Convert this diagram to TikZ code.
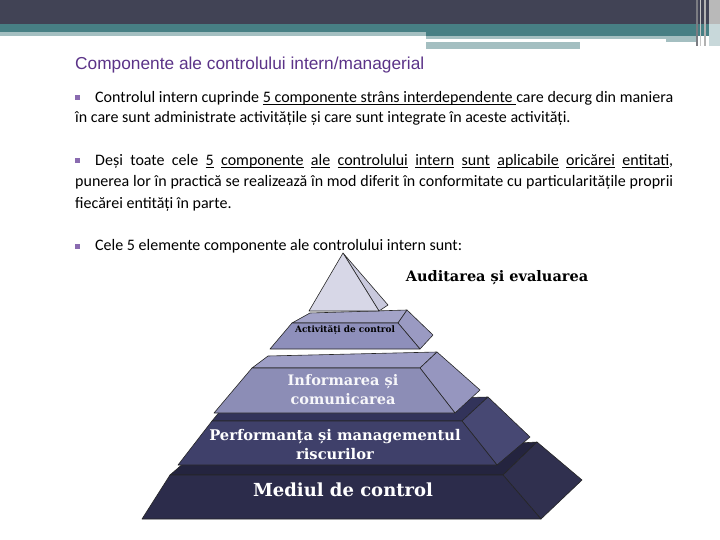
\documentclass[tikz,border=0pt]{standalone}
\usepackage{fontspec}
\setmainfont{Carlito}
\newfontfamily\titlefont{Liberation Sans}
\newfontfamily\pyrfont{DejaVu Serif}
\newsavebox\ulbox
\newcommand\myul[1]{\sbox\ulbox{#1}\rlap{\rule[-1.8pt]{\wd\ulbox}{0.7pt}}\usebox\ulbox}
\definecolor{hdrdark}{HTML}{414355}
\definecolor{hdrteal}{HTML}{477F84}
\definecolor{hdrlight}{HTML}{A4BFC1}
\definecolor{titlecol}{HTML}{5B3388}
\definecolor{bulletcol}{HTML}{8A6BB0}
\definecolor{apexfront}{HTML}{D7D7E7}
\definecolor{apexside}{HTML}{C9C9DD}
\definecolor{sbfront}{HTML}{8E8FBB}
\definecolor{sbtop}{HTML}{A3A3C8}
\definecolor{sbside}{HTML}{9A9AC2}
\definecolor{scfront}{HTML}{8C8DB6}
\definecolor{sctop}{HTML}{9E9EC6}
\definecolor{scside}{HTML}{9696BF}
\definecolor{sdfront}{HTML}{3F406A}
\definecolor{sdtop}{HTML}{32335A}
\definecolor{sdside}{HTML}{474873}
\definecolor{sefront}{HTML}{2C2C4B}
\definecolor{setop}{HTML}{24243F}
\definecolor{seside}{HTML}{30304F}
\begin{document}
\begin{tikzpicture}[x=1pt,y=-1pt,
  edge/.style={draw=black!85,line width=0.6pt,line join=round},
  bodytext/.style={anchor=base west,inner sep=0pt,font=\fontsize{16}{19}\selectfont},
  bulletsq/.style={rectangle,fill=bulletcol,minimum size=5pt,inner sep=0pt},
  pyrlabel/.style={align=center,inner sep=0pt,font=\pyrfont\bfseries}]
\useasboundingbox (0,0) rectangle (720,540);
% header
\fill[hdrdark] (0,0) rectangle (720,24);
\fill[hdrteal] (0,24) rectangle (720,32);
\fill[hdrlight] (0,32) rectangle (426,36);
\fill[hdrteal] (426,32) rectangle (720,36);
\fill[hdrlight] (426,36) rectangle (698,39);
\fill[hdrlight] (666,39) rectangle (698,42);
\fill[hdrlight] (426,42) rectangle (580,49);
\fill[black!45!hdrdark!60] (696,0) rectangle (698,46);
\fill[gray!45] (700,0) rectangle (701,46);
\fill[gray!60] (704,0) rectangle (706,46);
\fill[gray!55] (709,0) rectangle (720,24);
\fill[hdrlight!60] (709,24) rectangle (720,46);
% title
\node[anchor=base west,inner sep=0pt,text=titlecol,font=\titlefont\fontsize{17.3}{20}\selectfont] (title) at (75,70) {Componente ale controlului intern/managerial};
% paragraph 1
\node[bulletsq] (b1) at (77.5,98) {};
\node[bodytext] (p1a) at (95,103) {\makebox[578pt][s]{Controlul intern cuprinde \myul{5 componente strâns interdependente\ }care decurg din maniera}};
\node[bodytext] (p1b) at (75,123) {în care sunt administrate activitățile și care sunt integrate în aceste activități.};
% paragraph 2
\node[bulletsq] (b2) at (77.5,161) {};
\node[bodytext] (p2a) at (95,166) {\makebox[578pt][s]{Deși toate cele \myul{5} \myul{componente} \myul{ale} \myul{controlului} \myul{intern} \myul{sunt} \myul{aplicabile} \myul{oricărei} \myul{entitati},}};
\node[bodytext] (p2b) at (75,187) {\makebox[598pt][s]{punerea lor în practică se realizează în mod diferit în conformitate cu particularitățile proprii}};
\node[bodytext] (p2c) at (75,209) {fiecărei entități în parte.};
% paragraph 3
\node[bulletsq] (b3) at (77.5,246) {};
\node[bodytext] (p3a) at (95,251) {Cele 5 elemente componente ale controlului intern sunt:};
% slab 5 : Mediul de control
\path[edge,fill=setop] (170,475) -- (185,462) -- (537,442) -- (503,475) -- cycle;
\path[edge,fill=seside] (503,475) -- (537,442) -- (582,480) -- (541,519) -- cycle;
\path[edge,fill=sefront] (170,475) -- (503,475) -- (541,519) -- (142,519) -- cycle;
% slab 4 : Performanta
\path[edge,fill=sdtop] (212,421) -- (226,404) -- (488,397) -- (462,421) -- cycle;
\path[edge,fill=sdside] (462,421) -- (488,397) -- (530,437) -- (497,465) -- cycle;
\path[edge,fill=sdfront] (212,421) -- (462,421) -- (497,465) -- (178,465) -- cycle;
% slab 3 : Informarea
\path[edge,fill=sctop] (252,368) -- (268,356) -- (437,352) -- (420,368) -- cycle;
\path[edge,fill=scside] (420,368) -- (437,352) -- (480,390) -- (455,413) -- cycle;
\path[edge,fill=scfront] (252,368) -- (420,368) -- (455,413) -- (214,413) -- cycle;
% slab 2 : Activitati de control
\path[edge,fill=sbtop] (292,323) -- (310,313) -- (407,310) -- (398,323) -- cycle;
\path[edge,fill=sbside] (398,323) -- (407,310) -- (433,335) -- (420,349) -- cycle;
\path[edge,fill=sbfront] (292,323) -- (398,323) -- (420,349) -- (270,349) -- cycle;
% apex pyramid
\path[edge,fill=apexside] (343,253) -- (388,305) -- (379,311) -- cycle;
\path[edge,fill=apexfront] (343,253) -- (379,311) -- (309,311) -- cycle;
% labels
\node[pyrlabel,text=black,font=\pyrfont\bfseries\fontsize{14.5}{16}\selectfont] (audit) at (497,278) {Auditarea și evaluarea};
\node[pyrlabel,text=black,font=\pyrfont\bfseries\fontsize{8.9}{10}\selectfont] (activ) at (345,330) {Activități de control};
\node[pyrlabel,text=white!92!sctop,font=\pyrfont\bfseries\fontsize{14.5}{19}\selectfont] (info) at (343,390) {Informarea și\\comunicarea};
\node[pyrlabel,text=white,font=\pyrfont\bfseries\fontsize{14.7}{19}\selectfont] (perf) at (335,445) {Performanța și managementul\\riscurilor};
\node[pyrlabel,text=white,font=\pyrfont\bfseries\fontsize{18}{20}\selectfont] (mediu) at (343,490) {Mediul de control};
\end{tikzpicture}
\end{document}
